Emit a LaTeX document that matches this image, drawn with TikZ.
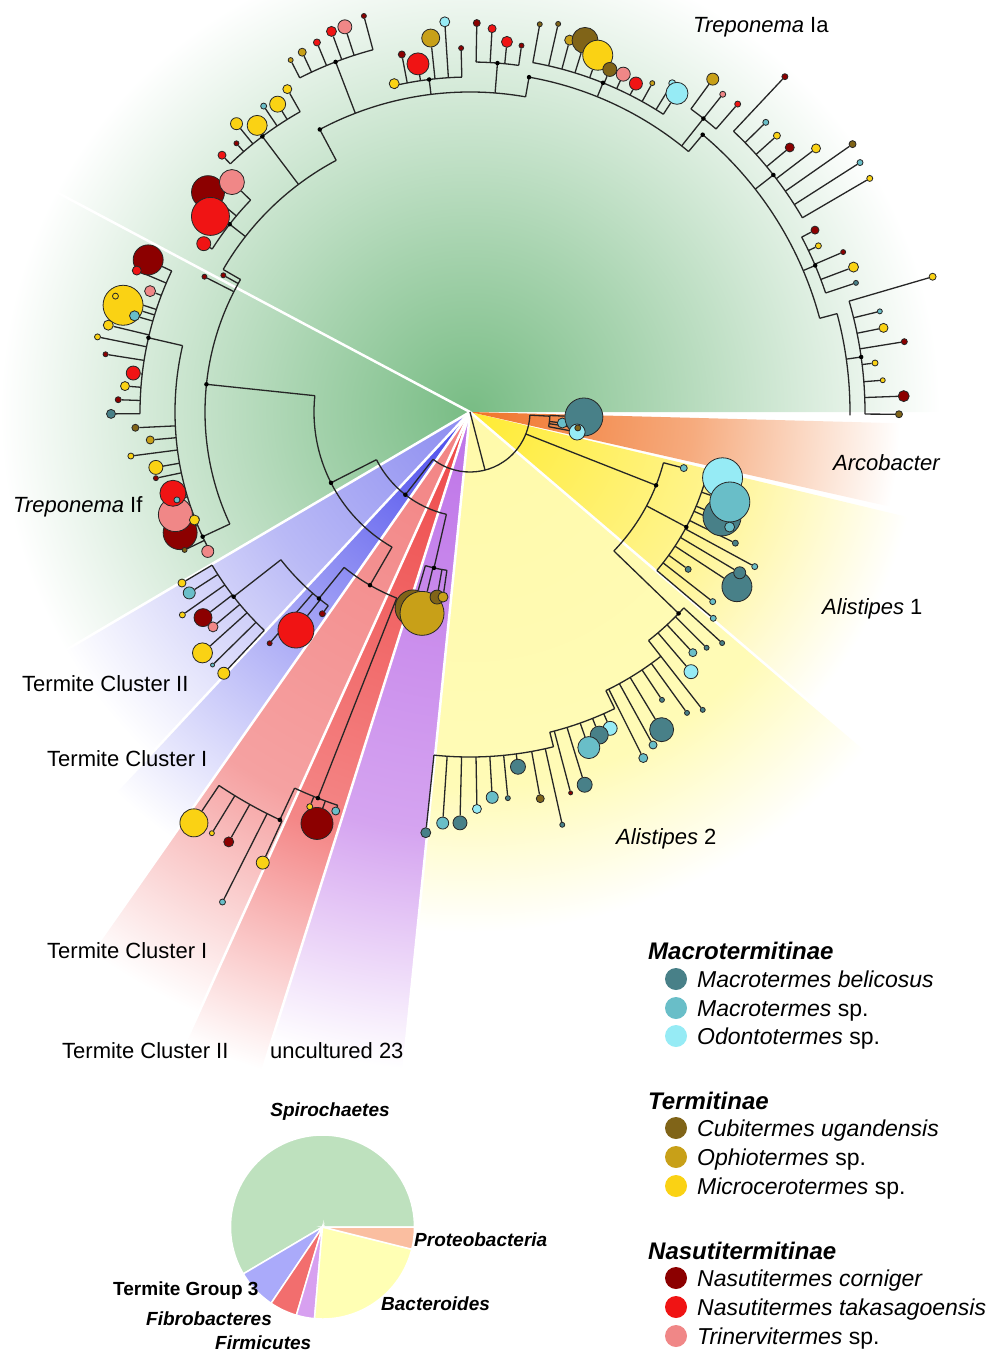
\documentclass[tikz,border=0pt]{standalone}
\usepackage{fontspec}
\setmainfont{Liberation Sans}
\pgfdeclarelayer{back}
\pgfdeclarelayer{bg}
\pgfsetlayers{back,bg,main}

% termite colours
\definecolor{mb}{RGB}{72,128,136}
\definecolor{ms}{RGB}{105,190,200}
\definecolor{od}{RGB}{150,235,245}
\definecolor{cu}{RGB}{128,100,24}
\definecolor{op}{RGB}{200,160,24}
\definecolor{mi}{RGB}{250,210,20}
\definecolor{nc}{RGB}{140,0,0}
\definecolor{nt}{RGB}{240,20,20}
\definecolor{tr}{RGB}{240,135,135}
% sector colours
\definecolor{sgreen}{RGB}{120,188,132}
\definecolor{sblue}{RGB}{70,70,235}
\definecolor{sbluel}{RGB}{140,140,240}
\definecolor{spink}{RGB}{242,130,130}
\definecolor{sred}{RGB}{238,70,70}
\definecolor{spurple}{RGB}{190,115,232}
\definecolor{syellowp}{RGB}{255,250,170}
\definecolor{syellow}{RGB}{255,235,50}
\definecolor{sorange}{RGB}{240,115,40}
% pie colours
\definecolor{pgreen}{RGB}{190,225,190}
\definecolor{pblue}{RGB}{170,170,250}
\definecolor{pred}{RGB}{242,110,110}
\definecolor{ppurple}{RGB}{215,160,240}
\definecolor{pyellow}{RGB}{255,255,180}
\definecolor{porange}{RGB}{250,190,160}

\pgfdeclareradialshading{fadegreen}{\pgfpointorigin}{color(0bp)=(sgreen); color(9bp)=(sgreen!65!white); color(25bp)=(white); color(50bp)=(white)}
\pgfdeclareradialshading{fadeblue}{\pgfpointorigin}{color(0bp)=(sblue); color(10bp)=(sblue!60!white); color(25bp)=(white); color(50bp)=(white)}
\pgfdeclareradialshading{fadebluel}{\pgfpointorigin}{color(0bp)=(sbluel); color(12bp)=(sbluel!60!white); color(25bp)=(white); color(50bp)=(white)}
\pgfdeclareradialshading{fadepink}{\pgfpointorigin}{color(0bp)=(spink); color(16bp)=(spink!75!white); color(25bp)=(white); color(50bp)=(white)}
\pgfdeclareradialshading{fadered}{\pgfpointorigin}{color(0bp)=(sred); color(16bp)=(sred!65!white); color(25bp)=(white); color(50bp)=(white)}
\pgfdeclareradialshading{fadepurple}{\pgfpointorigin}{color(0bp)=(spurple); color(16bp)=(spurple!65!white); color(25bp)=(white); color(50bp)=(white)}
\pgfdeclareradialshading{fadeyellowp}{\pgfpointorigin}{color(0bp)=(syellowp); color(18bp)=(syellowp!85!white); color(25bp)=(white); color(50bp)=(white)}
\pgfdeclareradialshading{fadeyellow}{\pgfpointorigin}{color(0bp)=(syellow); color(14bp)=(syellow!55!white); color(25bp)=(white); color(50bp)=(white)}
\pgfdeclareradialshading{fadeorange}{\pgfpointorigin}{color(0bp)=(sorange); color(13bp)=(sorange!60!white); color(25bp)=(white); color(50bp)=(white)}

\begin{document}
\begin{tikzpicture}[x=1pt, y=1pt,
    branch/.style={draw=black!85, line width=1.3pt},
    tip/.style={circle, draw=black!85, line width=0.8pt, inner sep=0pt},
    knot/.style={circle, fill=black, inner sep=0pt, minimum size=4.5pt},
    lbl/.style={font=\fontsize{22}{26}\selectfont, anchor=base west, inner sep=0pt},
    legtitle/.style={font=\fontsize{24}{28}\selectfont\bfseries\itshape, anchor=base west, inner sep=0pt},
    legtxt/.style={font=\fontsize{23}{27}\selectfont, anchor=base west, inner sep=0pt},
    legdot/.style={circle, inner sep=0pt, minimum size=22pt},
    plbl/.style={font=\fontsize{19}{22}\selectfont\bfseries\itshape, anchor=base west, inner sep=0pt}]
  \useasboundingbox (0,0) rectangle (990,-1351);
  \coordinate (C) at (470,-412);

  % coloured sectors
  \begin{pgfonlayer}{back}
    \foreach \s/\e/\sh/\R in {0/152/fadegreen/470, 152/210.5/fadegreen/470,
        210.5/227/fadebluel/470, 227/235/fadeblue/520, 235/245.7/fadepink/660,
        245.7/252.5/fadered/690, 252.5/264.2/fadepurple/660,
        264.2/319.5/fadeyellowp/520, 319.5/346.5/fadeyellow/450,
        347.3/358.5/fadeorange/430}{
      \begin{scope}
        \clip (C) -- ([shift={(C)}]\s:800) arc[start angle=\s, end angle=\e, radius=800] -- cycle;
        \shade[shading=\sh] (C) circle (\R);
      \end{scope}
    }
    \foreach \a in {152, 210.5, 227, 235, 245.7, 252.5, 264.2, 319.5}
      \draw[white, line width=2.5pt] (C) -- ([shift={(C)}]\a:800);
  \end{pgfonlayer}

  % tree: arcs and radial steps
  \begin{pgfonlayer}{bg}
    \foreach \r/\s/\e in {60/232/357, 105/207/257, 156/174/240, 265/150/205,
        285/150/118, 320/118/80, 340/80/50, 362/50/15, 380/15/-0.5,
        375/105/117, 345/119.5/134, 305/136/147.7, 335/91.4/103, 350/82/89,
        355/57/79.8, 375/49/53.9, 385/30.3/46.8, 375/18.5/27.8, 395/-0.3/16.3,
        295/167/208, 330/154.7/180.3, 200/231/248.5, 240/218/233.8,
        300/210.7/226.7, 415/245/251.4, 450/236.1/245.3, 160/253.8/261.7,
        80/349.4/357.5, 200/-44/-14.7, 245/-40.3/-14.6, 290/-52/-42.5,
        310/-64/-52, 330/-76/-64, 345/-96/-76}
      \draw[branch] ([shift={(C)}]\s:\r) arc[start angle=\s, end angle=\e, radius=\r];
    \foreach \a/\ri/\ro in {284.5/0/60, 232/60/105, 207/105/156, 174/156/265,
        150/265/285, 118/285/320, 80/320/340, 50/340/362, 15/362/380,
        111/320/375, 127/285/345, 142/285/305, 97/320/335, 85.5/320/350,
        68/340/355, 51.5/340/375, 38/362/385, 23/362/375, 8/380/395,
        205/265/295, 167/295/330, 240/156/200, 231/200/240, 218/240/300,
        248.5/200/415, 245/415/450, 257/105/160, 357/60/80, 338.5/60/200,
        -28/200/245, -44/200/290, -52/290/310, -64/310/330, -76/330/345}
      \draw[branch] ([shift={(C)}]\a:\ri) -- ([shift={(C)}]\a:\ro);
  \end{pgfonlayer}

  % internal nodes
  \foreach \a/\r [count=\i] in {232/105, 207/156, 174/265, 240/200, 231/240,
      218/300, 248.5/415, 245/450, 257/160, 338.5/200, -28/245, -44/290,
      205/295, 167/330, 111/375, 127/345, 142/305, 97/335, 85.5/350, 68/355,
      51.5/375, 38/385, 23/375, 8/395, 118/320, 80/340, 50/362}
    \node[knot] (n\i) at ([shift={(C)}]\a:\r) {};

  % tips: angle/radius/base radius/size/colour
  \foreach \a/\r/\rb/\d/\c [count=\i] in {
      105/410/375/5/nc, 108/405/375/14/tr, 110/405/375/10/nt, 112.5/400/375/7/nt,
      115/397/375/8/op, 117/395/375/5/op,
      119.5/371/345/9/mi, 122/363/345/16/mi, 124/369/345/6/ms, 126.6/357/345/20/mi,
      129/371/345/12/mi, 131/356/345/5/nc, 134/357/345/8/nt,
      140/342/305/33/nc, 136/331/305/25/tr, 143/325/305/38/nt, 147.7/315/305/14/nt,
      151/282/265/5/nc, 153/298/265/5/nc,
      103/337/335/10/mi, 100.8/364/335/7/nc, 98.5/352/335/22/nt, 96/376/335/18/op,
      93.7/391/335/10/od, 91.4/364/335/5/nc,
      89/389/350/7/nc, 86.7/384/350/8/nt, 84.3/372/350/11/nt, 82/370/350/5/nc,
      79.8/394/355/5/cu, 77.2/398/355/5/cu, 75/385/355/10/op, 72.8/389/355/26/cu,
      70.3/379/355/30/mi, 67.8/370/355/14/cu, 65.6/371/355/14/tr, 63.2/368/355/13/nt,
      61/376/355/5/op, 58.4/386/355/7/od, 57/380/355/22/od,
      53.9/412/375/12/op, 51.5/406/375/6/tr, 49/408/375/6/nt,
      46.8/460/385/6/nc, 44.4/414/385/6/ms, 42/413/385/7/mi, 39.6/415/385/9/nc,
      37.3/435/385/9/mi, 35/467/385/7/cu, 32.6/463/385/6/ms, 30.3/463/385/6/mi,
      27.8/390/375/8/nc, 25.5/386/375/6/mi, 23.2/406/375/5/nc, 20.7/410/375/10/mi,
      18.5/407/375/5/mb,
      16.3/482/395/7/mi, 13.8/422/395/5/ms, 11.5/422/395/9/mi, 9.2/440/395/6/nc,
      6.9/408/395/6/mi, 4.4/414/395/5/mi, 2.1/434/395/11/nc, -0.3/429/395/7/cu,
      154.7/356/330/30/nc, 157/362/330/9/nt, 159.3/342/330/11/tr, 162.9/363/330/40/mi,
      161.9/373/330/6/mi, 164/349/330/10/ms, 166.5/372/330/10/mi, 168.6/380/330/6/mi,
      171/369/330/5/nc, 173.4/339/330/14/nt, 175.7/346/330/9/mi, 178/352/330/6/nc,
      180.3/359/330/9/mb,
      182.7/335/295/7/cu, 185/321/295/8/op, 187.4/342/295/6/mi, 190/319/295/14/mi,
      191.9/321/295/5/nc, 202.6/314/295/34/nc, 199.2/312/295/34/tr, 195.3/308/295/26/nt,
      196.7/306/295/6/ms, 201.4/296/295/10/mi, 205.8/317/295/5/cu, 208/297/295/12/tr,
      210.7/335/300/8/mi, 212.8/334/300/12/ms, 215.2/352/300/6/mi, 217.6/337/300/18/nc,
      219.9/335/300/10/tr, 222/360/300/20/mi, 224.5/361/300/4/ms, 226.7/359/300/12/mi,
      229.1/306/240/5/nc, 231.4/279/240/36/nt, 233.8/250/240/6/nc,
      236.1/495/450/28/mi, 238.5/494/450/5/mi, 240.7/493/450/10/nc, 243.2/549/450/6/ms,
      245.3/496/450/13/mi,
      249.6/439/415/32/nc, 247.9/426/415/6/mi, 251.4/421/415/8/ms,
      253.8/204/160/36/cu, 256.6/207/160/44/op, 259.9/188/160/14/cu, 261.7/187/160/10/op,
      -6.8/93/80/10/ms, -2.5/114/80/38/mb, -10.6/109/80/16/od, -8.4/109/80/6/cu,
      -14.7/221/200/7/ms,
      -14.6/261/245/40/od, -22.6/273/245/38/mb, -19.1/275/245/40/ms, -23.9/284/245/10/ms,
      -26.3/296/245/6/mb, -28.5/324/245/6/ms, -33.2/319/245/30/mb, -30.8/314/245/12/mb,
      -35.8/269/245/6/mb, -38/308/245/6/ms, -40.3/319/245/6/ms,
      -42.5/342/290/5/mb, -44.9/334/290/5/mb, -47.2/328/290/8/ms, -49.6/341/290/14/od,
      -52/378/310/5/mb, -54.2/371/310/5/mb, -56.3/346/310/5/mb, -58.9/371/310/24/mb,
      -61.2/380/310/8/ms, -63.4/387/310/9/ms,
      -66.1/346/330/14/od, -68.2/348/330/18/mb, -70.5/356/330/22/ms, -72.9/390/330/15/mb,
      -75.2/394/330/4/nc,
      -77.4/423/345/5/mb, -79.7/393/345/8/cu, -82.3/358/345/15/mb, -84.4/388/345/5/mb,
      -86.7/386/345/12/ms, -89/397/345/9/od, -91.4/411/345/14/mb, -93.8/412/345/12/ms,
      -96/423/345/10/mb}{
    \coordinate (b\i) at ([shift={(C)}]\a:\rb);
    \node[tip, fill=\c, minimum size=\d] (t\i) at ([shift={(C)}]\a:\r) {};
    \begin{pgfonlayer}{bg}
      \draw[branch] (b\i) -- (t\i);
    \end{pgfonlayer}
  }

  % clade labels
  \node[lbl] (lia) at (693,-33) {\textit{Treponema} Ia};
  \node[lbl] (larc) at (833,-470) {\textit{Arcobacter}};
  \node[lbl] (lif) at (13,-512) {\textit{Treponema} If};
  \node[lbl] (lal1) at (822,-614) {\textit{Alistipes} 1};
  \node[lbl] (ltc2a) at (22,-691) {Termite Cluster II};
  \node[lbl] (ltc1a) at (47,-766) {Termite Cluster I};
  \node[lbl] (lal2) at (616,-844) {\textit{Alistipes} 2};
  \node[lbl] (ltc1b) at (47,-958) {Termite Cluster I};
  \node[lbl] (ltc2b) at (62,-1058) {Termite Cluster II};
  \node[lbl] (lunc) at (270,-1058) {uncultured 23};

  % legend
  \node[legtitle] (hmac) at (648,-959) {Macrotermitinae};
  \node[legtitle] (hter) at (648,-1109) {Termitinae};
  \node[legtitle] (hnas) at (648,-1259) {Nasutitermitinae};
  \foreach \y/\c/\t [count=\i] in {979/mb/{\textit{Macrotermes belicosus}},
      1008/ms/{\textit{Macrotermes} sp.}, 1036/od/{\textit{Odontotermes} sp.},
      1128/cu/{\textit{Cubitermes ugandensis}}, 1157/op/{\textit{Ophiotermes} sp.},
      1186/mi/{\textit{Microcerotermes} sp.}, 1278/nc/{\textit{Nasutitermes corniger}},
      1307/nt/{\textit{Nasutitermes takasagoensis}}, 1336/tr/{\textit{Trinervitermes} sp.}}{
    \node[legdot, fill=\c] (k\i) at (676,-\y) {};
    \node[legtxt] (e\i) at (697,-\y-8) {\t};
  }

  % pie chart
  \coordinate (P) at (322.5,-1227);
  \foreach \s/\e/\c in {0/210.6/pgreen, 210.6/236/pblue, 236/253.5/pred,
      253.5/265/ppurple, 265/346/pyellow, 346/360/porange}
    \fill[\c, draw=white, line width=1.5pt] (P) -- ([shift={(P)}]\s:92)
      arc[start angle=\s, end angle=\e, radius=92] -- cycle;
  \node[plbl, anchor=base] (pspi) at (330,-1116) {Spirochaetes};
  \node[plbl] (ppro) at (414,-1246) {Proteobacteria};
  \node[plbl] (pbac) at (381,-1310) {Bacteroides};
  \node[plbl] (ptg) at (113,-1295) {\textup{Termite Group 3}};
  \node[plbl] (pfib) at (146,-1325) {Fibrobacteres};
  \node[plbl] (pfir) at (215,-1349) {Firmicutes};
\end{tikzpicture}
\end{document}
